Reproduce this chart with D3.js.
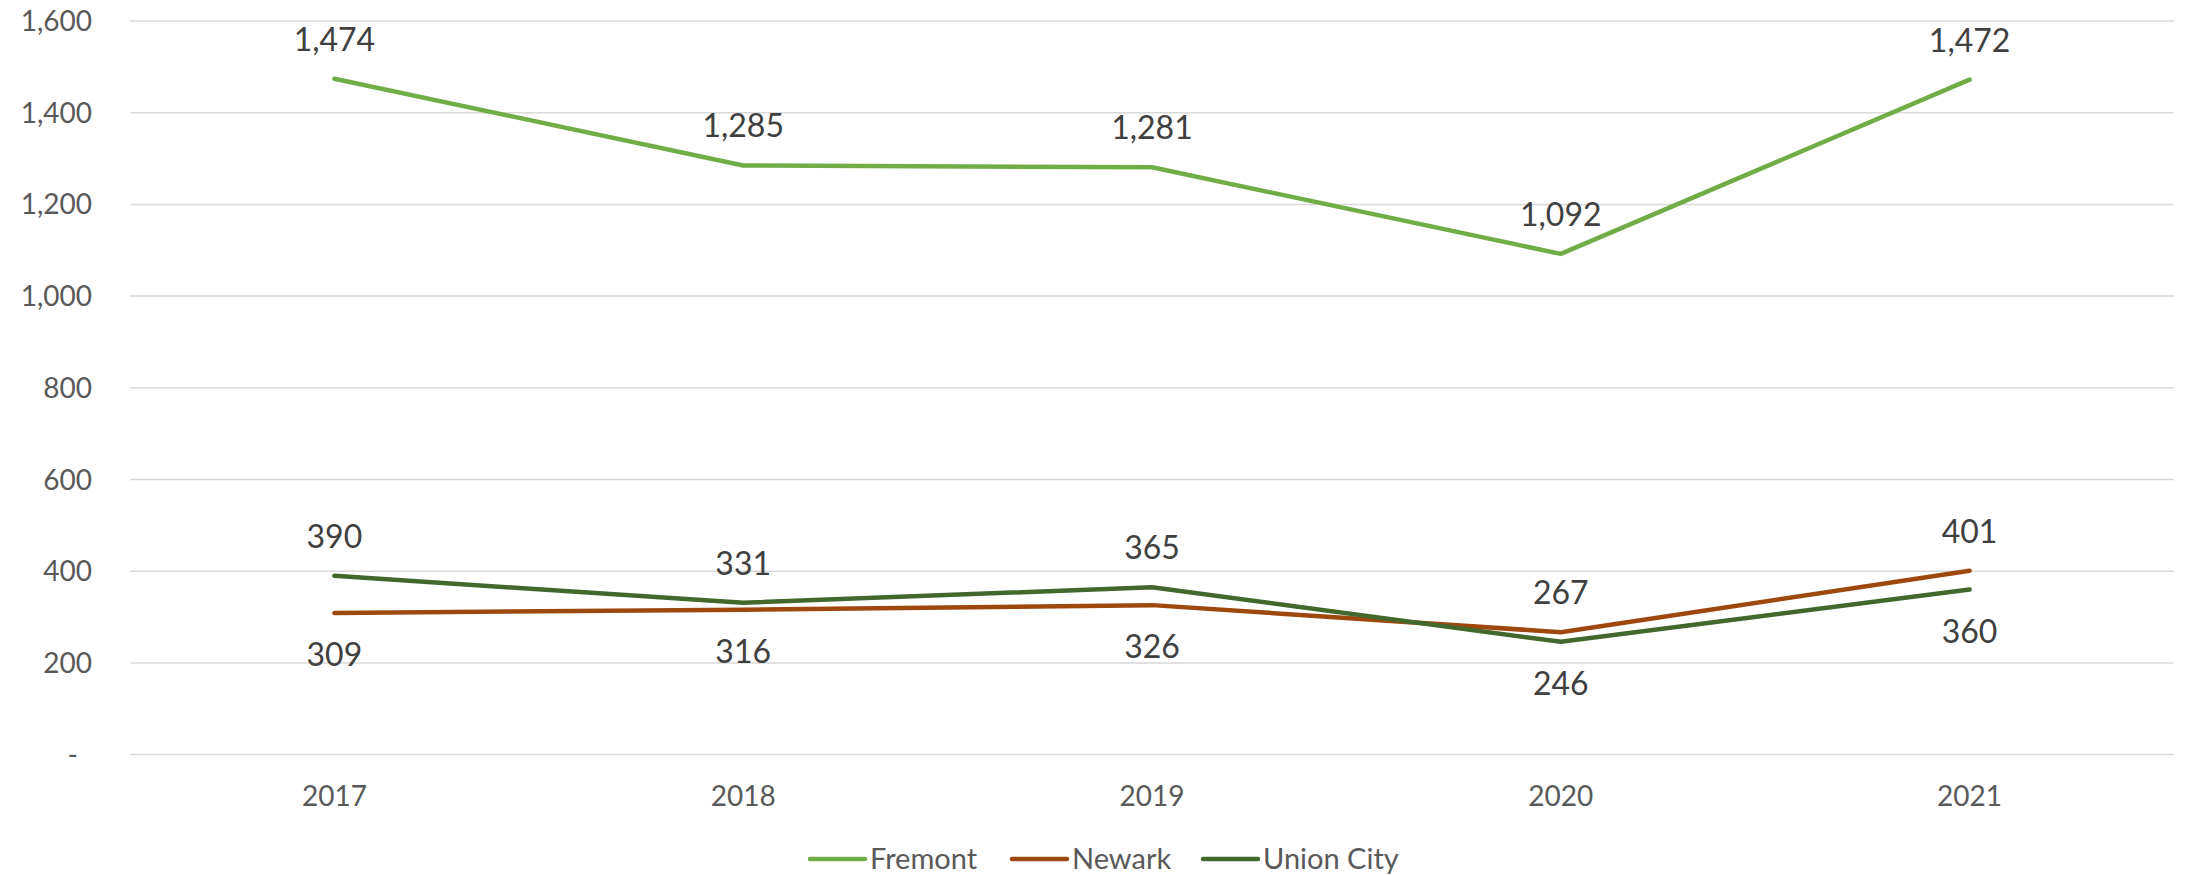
<!DOCTYPE html>
<html>
<head>
<meta charset="utf-8">
<script src="https://cdn.jsdelivr.net/npm/d3@7"></script>
<style>
  body { margin: 0; background: #fff; }
  text { font-family: Lato, "Open Sans", sans-serif; }
</style>
</head>
<body>
<div id="container"></div>
<script>
/* CONSTANTS AND GLOBALS */
const width = 2186,
  height = 875,
  margin = { top: 21, bottom: 120, left: 130, right: 12 };

// DATA
const years = ["2017", "2018", "2019", "2020", "2021"];
const fremont = [1474, 1285, 1281, 1092, 1472];
const newark = [309, 316, 326, 267, 401];
const unionCity = [390, 331, 365, 246, 360];
const yTicks = [0, 200, 400, 600, 800, 1000, 1200, 1400, 1600];

// label placement: 1 = above the point, -1 = below
const fremontPos = [1, 1, 1, 1, 1];
const newarkPos = [-1, -1, -1, 1, 1];
const unionPos = [1, 1, 1, -1, -1];

const series = [
  { name: "Fremont", values: fremont, pos: fremontPos, color: "#70AD47" },
  { name: "Newark", values: newark, pos: newarkPos, color: "#9E480E" },
  { name: "Union City", values: unionCity, pos: unionPos, color: "#43682B" }
];

const svg = d3.select("#container")
  .append("svg")
  .attr("width", width)
  .attr("height", height);

// SCALES
const x = d3.scalePoint()
  .domain(years)
  .range([margin.left, width - margin.right])
  .padding(0.5);

const y = d3.scaleLinear()
  .domain([0, 1600])
  .range([754.6, margin.top]);

// GRIDLINES
svg.append("g")
  .selectAll("line")
  .data(yTicks)
  .join("line")
  .attr("x1", margin.left)
  .attr("x2", width - margin.right)
  .attr("y1", d => y(d))
  .attr("y2", d => y(d))
  .attr("stroke", "#d9d9d9")
  .attr("stroke-width", 1.5);

// Y AXIS LABELS
const fmt = d3.format(",");
svg.append("g")
  .selectAll("text")
  .data(yTicks)
  .join("text")
  .attr("x", d => d === 0 ? 78 : 92)
  .attr("y", d => y(d) + 10)
  .attr("text-anchor", "end")
  .attr("font-size", 28)
  .attr("fill", "#595959")
  .text(d => d === 0 ? "-" : fmt(d));

// X AXIS LABELS
svg.append("g")
  .selectAll("text")
  .data(years)
  .join("text")
  .attr("x", d => x(d))
  .attr("y", 806)
  .attr("text-anchor", "middle")
  .attr("font-size", 28)
  .attr("fill", "#595959")
  .text(d => d);

// LINES
const line = d3.line()
  .x((d, i) => x(years[i]))
  .y(d => y(d));

svg.append("g")
  .selectAll("path")
  .data(series)
  .join("path")
  .attr("d", d => line(d.values))
  .attr("fill", "none")
  .attr("stroke", d => d.color)
  .attr("stroke-width", 4.5)
  .attr("stroke-linecap", "round")
  .attr("stroke-linejoin", "round");

// DATA LABELS
series.forEach(s => {
  svg.append("g")
    .selectAll("text")
    .data(s.values)
    .join("text")
    .attr("x", (d, i) => x(years[i]))
    .attr("y", (d, i) => s.pos[i] > 0 ? y(d) - 28 : y(d) + 53)
    .attr("text-anchor", "middle")
    .attr("font-size", 32)
    .attr("fill", "#404040")
    .text(d => fmt(d));
});

// LEGEND
const legendX = [810, 1012, 1203];
const legend = svg.append("g")
  .selectAll("g")
  .data(series)
  .join("g")
  .attr("transform", (d, i) => `translate(${legendX[i]}, 859)`);

legend.append("line")
  .attr("x1", 0)
  .attr("x2", 55)
  .attr("stroke", d => d.color)
  .attr("stroke-width", 4.5)
  .attr("stroke-linecap", "round");

legend.append("text")
  .attr("x", 60)
  .attr("y", 9.5)
  .attr("font-size", 29)
  .attr("fill", "#595959")
  .text(d => d.name);
</script>
</body>
</html>
